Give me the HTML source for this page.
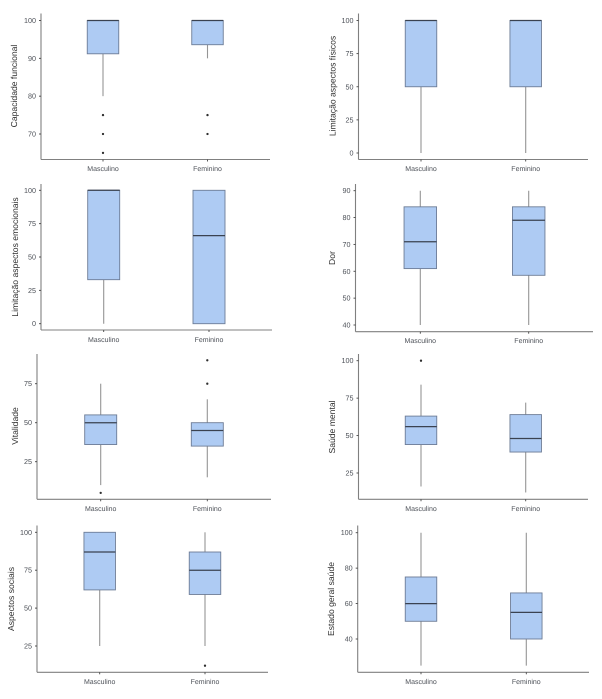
<!DOCTYPE html>
<html lang="pt">
<head>
<meta charset="utf-8">
<title>Boxplots por sexo</title>
<style>
html,body{margin:0;padding:0;background:#fff;width:602px;height:699px;overflow:hidden}
svg{display:block;filter:blur(0.35px)}
text{font-family:"Liberation Sans",sans-serif;text-rendering:geometricPrecision}
</style>
</head>
<body>
<svg id="chart" xmlns="http://www.w3.org/2000/svg" width="602" height="699" viewBox="0 0 602 699"></svg>
<script>
const categories = ['Masculino', 'Feminino'];

const capacidadeTicks = [100, 90, 80, 70];
const capacidadeLow = [80, 90];
const capacidadeQ1 = [91.2, 93.6];
const capacidadeMedian = [100, 100];
const capacidadeQ3 = [100, 100];
const capacidadeHigh = [100, 100];
const capacidadeOutliers = [[75, 70, 65], [75, 70]];

const fisicosTicks = [100, 75, 50, 25, 0];
const fisicosLow = [0, 0];
const fisicosQ1 = [50, 50];
const fisicosMedian = [100, 100];
const fisicosQ3 = [100, 100];
const fisicosHigh = [100, 100];
const fisicosOutliers = [[], []];

const emocionaisTicks = [100, 75, 50, 25, 0];
const emocionaisLow = [0, 0];
const emocionaisQ1 = [33, 0];
const emocionaisMedian = [100, 66];
const emocionaisQ3 = [100, 100];
const emocionaisHigh = [100, 100];
const emocionaisOutliers = [[], []];

const dorTicks = [90, 80, 70, 60, 50, 40];
const dorLow = [40, 40];
const dorQ1 = [61, 58.5];
const dorMedian = [71, 79];
const dorQ3 = [84, 84];
const dorHigh = [90, 90];
const dorOutliers = [[], []];

const vitalidadeTicks = [75, 50, 25];
const vitalidadeLow = [10, 15];
const vitalidadeQ1 = [36, 35];
const vitalidadeMedian = [50, 45];
const vitalidadeQ3 = [55, 50];
const vitalidadeHigh = [75, 65];
const vitalidadeOutliers = [[5], [75, 90]];

const mentalTicks = [100, 75, 50, 25];
const mentalLow = [16, 12];
const mentalQ1 = [44, 39];
const mentalMedian = [56, 48];
const mentalQ3 = [63, 64];
const mentalHigh = [84, 72];
const mentalOutliers = [[100], []];

const sociaisTicks = [100, 75, 50, 25];
const sociaisLow = [25, 25];
const sociaisQ1 = [62, 59];
const sociaisMedian = [87, 75];
const sociaisQ3 = [100, 87];
const sociaisHigh = [100, 100];
const sociaisOutliers = [[], [12]];

const geralTicks = [100, 80, 60, 40];
const geralLow = [25, 25];
const geralQ1 = [50, 40];
const geralMedian = [60, 55];
const geralQ3 = [75, 66];
const geralHigh = [100, 100];
const geralOutliers = [[], []];

const panels = [
  {key:'capacidade-funcional', title:'Capacidade funcional', ticks:capacidadeTicks, low:capacidadeLow, q1:capacidadeQ1, med:capacidadeMedian, q3:capacidadeQ3, high:capacidadeHigh, out:capacidadeOutliers,
   frame:{left:41, right:270, top:13.5, bottom:159.5, titleX:14, titleY:86, catA:103, catB:207.5, boxW:31.5, labelY:171}, scale:{v0:100, p0:20.5, v1:70, p1:134}},
  {key:'limitacao-fisicos', title:'Limitação aspectos físicos', ticks:fisicosTicks, low:fisicosLow, q1:fisicosQ1, med:fisicosMedian, q3:fisicosQ3, high:fisicosHigh, out:fisicosOutliers,
   frame:{left:358.5, right:588, top:13.5, bottom:159.5, titleX:332.5, titleY:86, catA:421, catB:525.7, boxW:31.5, labelY:171}, scale:{v0:100, p0:20.5, v1:0, p1:153}},
  {key:'limitacao-emocionais', title:'Limitação aspectos emocionais', ticks:emocionaisTicks, low:emocionaisLow, q1:emocionaisQ1, med:emocionaisMedian, q3:emocionaisQ3, high:emocionaisHigh, out:emocionaisOutliers,
   frame:{left:41, right:272, top:184, bottom:330, titleX:15, titleY:257, catA:103.7, catB:209, boxW:32, labelY:342}, scale:{v0:100, p0:190.3, v1:0, p1:323.7}},
  {key:'dor', title:'Dor', ticks:dorTicks, low:dorLow, q1:dorQ1, med:dorMedian, q3:dorQ3, high:dorHigh, out:dorOutliers,
   frame:{left:355.5, right:593, top:184, bottom:331.7, titleX:332, titleY:258, catA:420.3, catB:528.7, boxW:32.5, labelY:343}, scale:{v0:90, p0:190.7, v1:40, p1:325}},
  {key:'vitalidade', title:'Vitalidade', ticks:vitalidadeTicks, low:vitalidadeLow, q1:vitalidadeQ1, med:vitalidadeMedian, q3:vitalidadeQ3, high:vitalidadeHigh, out:vitalidadeOutliers,
   frame:{left:37, right:271, top:354, bottom:499.3, titleX:15, titleY:426, catA:100.7, catB:207.3, boxW:32, labelY:511}, scale:{v0:75, p0:383.7, v1:25, p1:461.7}},
  {key:'saude-mental', title:'Saúde mental', ticks:mentalTicks, low:mentalLow, q1:mentalQ1, med:mentalMedian, q3:mentalQ3, high:mentalHigh, out:mentalOutliers,
   frame:{left:358.5, right:588, top:354, bottom:499.3, titleX:332, titleY:427, catA:421, catB:525.7, boxW:31.5, labelY:511}, scale:{v0:100, p0:360.7, v1:25, p1:473}},
  {key:'aspectos-sociais', title:'Aspectos sociais', ticks:sociaisTicks, low:sociaisLow, q1:sociaisQ1, med:sociaisMedian, q3:sociaisQ3, high:sociaisHigh, out:sociaisOutliers,
   frame:{left:37, right:268, top:525.5, bottom:672.3, titleX:11, titleY:599, catA:99.7, catB:205, boxW:31.5, labelY:684}, scale:{v0:100, p0:532.3, v1:25, p1:646}},
  {key:'estado-geral-saude', title:'Estado geral saúde', ticks:geralTicks, low:geralLow, q1:geralQ1, med:geralMedian, q3:geralQ3, high:geralHigh, out:geralOutliers,
   frame:{left:357.7, right:589, top:525.5, bottom:672.3, titleX:331, titleY:599, catA:421, catB:526.3, boxW:31.5, labelY:684}, scale:{v0:100, p0:532.7, v1:40, p1:639}}
];

const NS = 'http://www.w3.org/2000/svg';
const root = document.getElementById('chart');

function make(parent, tag, props) {
  const node = document.createElementNS(NS, tag);
  for (const k in props) node.setAttribute(k, props[k]);
  parent.appendChild(node);
  return node;
}

function yScale(s) {
  return function (v) {
    return s.p0 + (v - s.v0) * (s.p1 - s.p0) / (s.v1 - s.v0);
  };
}

function xScale(f) {
  return function (i) {
    return f.catA + i * (f.catB - f.catA);
  };
}

panels.forEach(function (p) {
  const f = p.frame;
  const y = yScale(p.scale);
  const x = xScale(f);

  const g = make(root, 'g', {});
  
  

  const yAxis = make(g, 'line', {x1:f.left, x2:f.left, y1:f.top, y2:f.bottom, stroke:'#808080', 'stroke-width':1.1});
  
  

  const xAxis = make(g, 'line', {x1:f.left, x2:f.right, y1:f.bottom, y2:f.bottom, stroke:'#808080', 'stroke-width':1.1});
  
  

  const title = make(g, 'text', {x:f.titleX, y:f.titleY, 'font-size':8.6, fill:'#2e2e2e', 'text-anchor':'middle', 'dominant-baseline':'central', transform:'rotate(-90 ' + f.titleX + ' ' + f.titleY + ')'});
  title.textContent = p.title;
  
  

  p.ticks.forEach(function (t) {
    const tick = make(g, 'line', {x1:f.left - 2, x2:f.left, y1:y(t), y2:y(t), stroke:'#444', 'stroke-width':0.9});
    
    

    const label = make(g, 'text', {x:f.left - 5, y:y(t), 'font-size':7.2, fill:'#4d5158', 'text-anchor':'end', 'dominant-baseline':'central'});
    label.textContent = t;
    
    
  });

  categories.forEach(function (c, i) {
    const cx = x(i);
    const hw = f.boxW / 2;

    const tick = make(g, 'line', {x1:cx, x2:cx, y1:f.bottom, y2:f.bottom + 2, stroke:'#444', 'stroke-width':0.9});
    
    

    const label = make(g, 'text', {x:cx, y:f.labelY, 'font-size':7, fill:'#4d5158', 'text-anchor':'middle'});
    label.textContent = c;
    
    

    const whisker = make(g, 'line', {x1:cx, x2:cx, y1:y(p.high[i]), y2:y(p.low[i]), stroke:'#959595', 'stroke-width':1.1});
    
    

    const box = make(g, 'rect', {x:cx - hw, y:y(p.q3[i]), width:f.boxW, height:y(p.q1[i]) - y(p.q3[i]), fill:'#aecbf3', stroke:'#6d7c96', 'stroke-width':0.9});
    
    

    const median = make(g, 'line', {x1:cx - hw, x2:cx + hw, y1:y(p.med[i]), y2:y(p.med[i]), stroke:'#3a4250', 'stroke-width':1.25});
    
    

    p.out[i].forEach(function (v) {
      const pt = make(g, 'circle', {cx:cx, cy:y(v), r:1.15, fill:'#2e2e2e'});
      
      
    });
  });
});
</script>
</body>
</html>
